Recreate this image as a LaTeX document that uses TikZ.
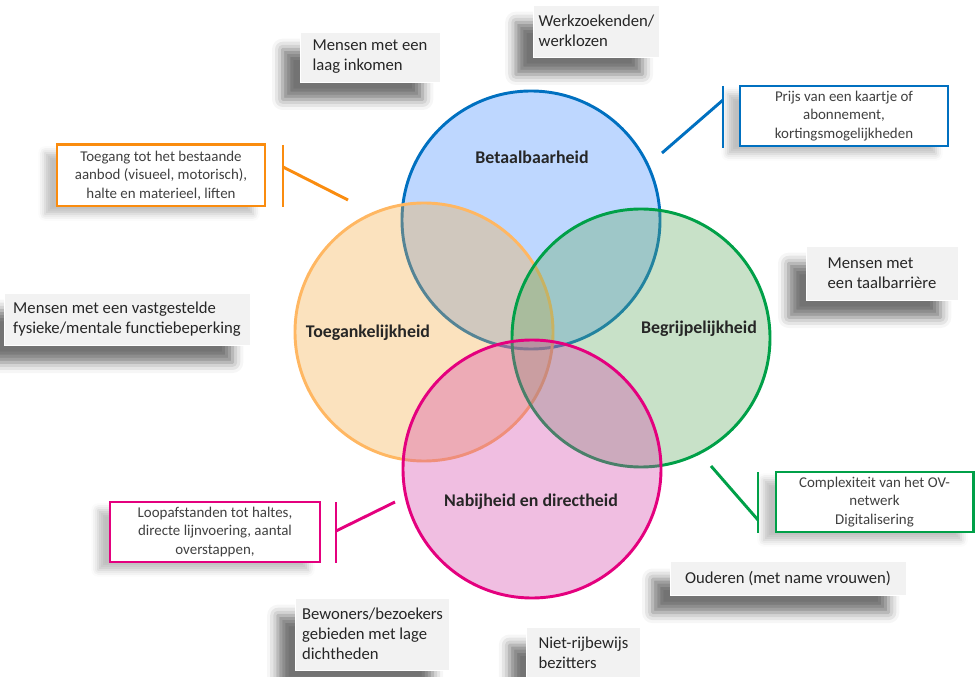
\documentclass[tikz,border=0pt]{standalone}
\usepackage{fontspec}
\setmainfont{Carlito}
\usetikzlibrary{shadows.blur}
\definecolor{lblue}{RGB}{0,112,192}
\definecolor{lorange}{RGB}{255,183,98}
\definecolor{lgreen}{RGB}{0,160,72}
\definecolor{lpink}{RGB}{228,0,126}
\definecolor{korange}{RGB}{250,140,15}
\definecolor{fblue}{RGB}{69,141,255}
\definecolor{forange}{RGB}{244,172,69}
\definecolor{fgreen}{RGB}{98,169,98}
\definecolor{fpink}{RGB}{212,69,169}
\definecolor{boxgrey}{RGB}{242,242,242}
\tikzset{
	venn/.style={line width=2.2pt, fill opacity=0.35},
	vennlabel/.style={font=\bfseries\fontsize{13.4}{15}\selectfont, text=black!85},
	greybox/.style={fill=boxgrey, draw=white, line width=0.7pt, align=left, inner xsep=4pt,
		font=\fontsize{12.5}{15}\selectfont, text=black!85,
		blur shadow={shadow xshift=-13pt, shadow yshift=-13pt, shadow blur radius=8pt, shadow opacity=55}},
	callout/.style={fill=white, line width=2pt, align=center, inner sep=1pt,
		font=\fontsize{11.2}{13.8}\selectfont, text=black!75,
		blur shadow={shadow xshift=-9pt, shadow yshift=-6pt, shadow blur radius=5pt, shadow opacity=25}},
	leader/.style={line width=2.2pt}
}
\begin{document}
\begin{tikzpicture}[x=0.75pt, y=-0.75pt]
	\def\rad{129};
	\useasboundingbox (0,0) rectangle (975,677);
	\draw[venn, draw=lblue, fill=fblue] (531,220) circle [radius=\rad];
	\draw[venn, draw=lorange, fill=forange] (424,332) circle [radius=\rad];
	\draw[venn, draw=lgreen, fill=fgreen] (641,338) circle [radius=\rad];
	\draw[venn, draw=lpink, fill=fpink] (532,469) circle [radius=\rad];
	\node[vennlabel] (betaal) at (532,157) {Betaalbaarheid};
	\node[vennlabel] (toegang) at (368,333) {Toegankelijkheid};
	\node[vennlabel] (begrip) at (699,329) {Begrijpelijkheid};
	\node[vennlabel] (nabij) at (531,502) {Nabijheid en directheid};

	\node[callout, draw=korange, minimum width=156pt, minimum height=46pt] (tgbox) at (161,175.5) {Toegang tot het bestaande\\aanbod (visueel, motorisch),\\halte en materieel, liften};
	\node[callout, draw=lblue, minimum width=156pt, minimum height=45pt] (btbox) at (844,116) {Prijs van een kaartje of\\abonnement,\\kortingsmogelijkheden};
	\node[callout, draw=lgreen, minimum width=148pt, minimum height=45pt] (bgbox) at (874.5,502) {Complexiteit van het OV-\\netwerk\\Digitalisering};
	\node[callout, draw=lpink, minimum width=157.5pt, minimum height=45pt] (nbbox) at (215,532) {Loopafstanden tot haltes,\\directe lijnvoering, aantal\\overstappen,};

	\coordinate (tgtop) at (283,145);
	\coordinate (tgbot) at (283,207);
	\coordinate (tgjoin) at (283,167);
	\coordinate (tgtip) at (348,200);
	\draw[leader, korange] (tgtop) -- (tgbot);
	\draw[leader, korange] (tgjoin) -- (tgtip);
	\coordinate (bttop) at (723,86);
	\coordinate (btbot) at (723,148);
	\coordinate (btjoin) at (723,100);
	\coordinate (bttip) at (662,153);
	\draw[leader, lblue] (bttop) -- (btbot);
	\draw[leader, lblue] (btjoin) -- (bttip);
	\coordinate (bgtop) at (758,472);
	\coordinate (bgbot) at (758,533);
	\coordinate (bgjoin) at (758,520);
	\coordinate (bgtip) at (711,466);
	\draw[leader, lgreen] (bgtop) -- (bgbot);
	\draw[leader, lgreen] (bgjoin) -- (bgtip);
	\coordinate (nbtop) at (336,502);
	\coordinate (nbbot) at (336,563);
	\coordinate (nbjoin) at (336,531);
	\coordinate (nbtip) at (395,502);
	\draw[leader, lpink] (nbtop) -- (nbbot);
	\draw[leader, lpink] (nbjoin) -- (nbtip);

	\node[greybox, minimum width=105pt, minimum height=37.5pt] (inkomen) at (370,57) {Mensen met een\\laag inkomen};
	\node[greybox, minimum width=95pt, minimum height=39pt] (werkloos) at (596.5,31) {Werkzoekenden/\\werklozen};
	\node[greybox, minimum width=184.5pt, minimum height=39pt] (beperking) at (127,319) {Mensen met een vastgestelde\\fysieke/mentale functiebeperking};
	\node[greybox, minimum width=114pt, minimum height=40.5pt] (taal) at (882,273) {Mensen met\\een taalbarrière};
	\node[greybox, minimum width=177pt, minimum height=25pt] (ouderen) at (788,578.5) {Ouderen (met name vrouwen)};
	\node[greybox, minimum width=116pt, minimum height=54pt] (bewoners) at (372.5,634) {Bewoners/bezoekers\\gebieden met lage\\dichtheden};
	\node[greybox, minimum width=85pt, minimum height=37pt] (rijbewijs) at (583.5,652.5) {Niet-rijbewijs\\bezitters};
\end{tikzpicture}
\end{document}
